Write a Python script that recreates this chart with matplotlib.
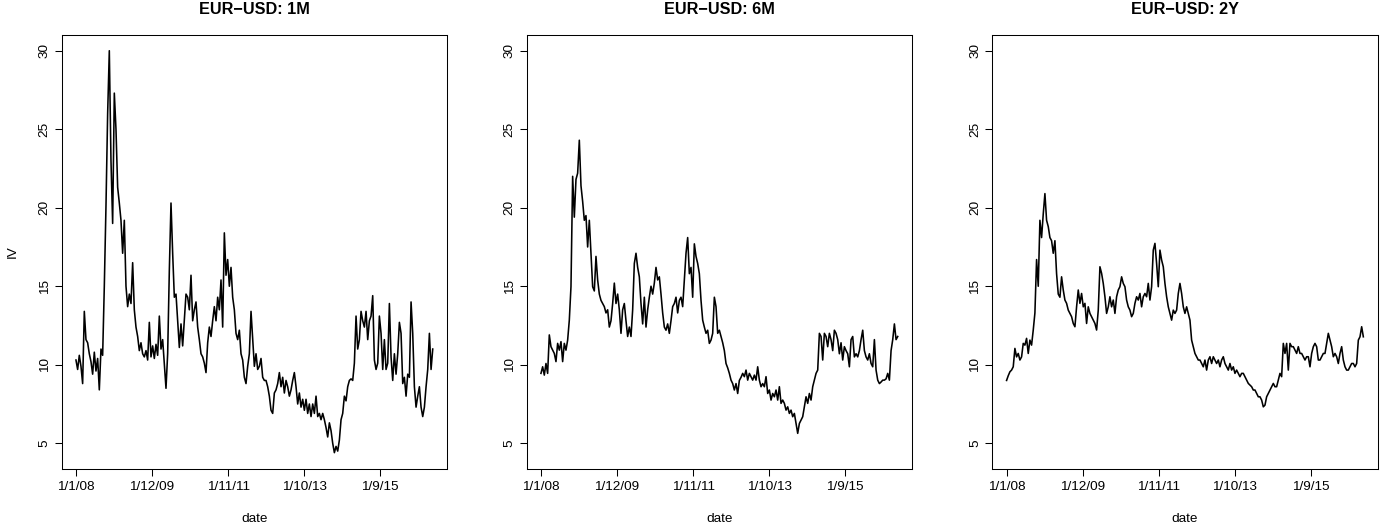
import numpy as np
import matplotlib
matplotlib.use("Agg")
import matplotlib.pyplot as plt

plt.rcParams["font.family"] = ["Liberation Sans", "DejaVu Sans"]

# implied vol (%) of EUR-USD options, sampled roughly every 11 trading days
iv_1m = [
    10.3, 9.7, 10.6, 9.9, 8.8, 13.4, 11.6, 11.4, 10.7, 10.2, 9.4, 10.8, 9.6, 10.4, 8.4,
    11.0, 10.6, 15.0, 20.1, 26.0, 30.0, 23.0, 19.0, 27.3, 25.0, 21.3, 20.3, 19.2, 17.1, 19.2,
    15.0, 13.7, 14.5, 13.9, 16.5, 13.5, 12.4, 11.8, 10.9, 11.4, 10.7, 10.5, 10.9, 10.3, 12.7,
    10.5, 11.2, 10.4, 11.3, 10.6, 13.1, 11.0, 11.6, 10.1, 8.5, 10.7, 16.0, 20.3, 17.1, 14.3,
    14.5, 12.8, 11.1, 12.6, 11.2, 12.8, 14.5, 14.3, 13.5, 15.7, 12.8, 13.5, 14.0, 12.4, 11.6,
    10.7, 10.5, 10.1, 9.5, 11.4, 12.4, 11.8, 12.8, 13.7, 12.8, 14.3, 13.5, 15.4, 12.4, 18.4,
    15.7, 16.7, 15.0, 16.2, 14.3, 13.5, 12.0, 11.6, 12.2, 10.7, 10.3, 9.2, 8.8, 9.9, 10.7,
    13.4, 11.6, 9.9, 10.7, 9.7, 9.9, 10.4, 9.2, 9.0, 9.0, 8.6, 8.0, 7.1, 6.9, 8.2,
    8.4, 8.8, 9.5, 8.6, 9.2, 8.2, 9.0, 8.6, 8.0, 8.4, 9.0, 9.5, 8.6, 7.5, 8.2,
    7.3, 7.8, 7.1, 7.8, 6.9, 7.5, 6.7, 7.5, 6.9, 8.0, 6.7, 6.9, 6.5, 6.9, 6.5,
    6.0, 5.4, 6.3, 5.8, 5.0, 4.4, 4.8, 4.5, 5.2, 6.5, 6.9, 8.0, 7.7, 8.6, 9.0,
    9.1, 9.0, 10.1, 13.1, 11.0, 11.6, 13.4, 12.8, 12.4, 13.4, 11.6, 12.8, 13.1, 14.4, 10.3,
    9.7, 10.1, 13.1, 12.0, 9.7, 11.6, 9.7, 10.1, 13.9, 10.5, 9.0, 10.7, 9.4, 10.7, 12.7,
    12.0, 8.8, 9.2, 8.0, 9.4, 9.2, 14.0, 12.0, 8.6, 7.3, 8.0, 8.6, 7.3, 6.7, 7.3,
    8.6, 9.7, 12.0, 9.7, 11.0,
]

iv_6m = [
    9.45, 9.87, 9.34, 10.08, 9.45, 11.9, 11.15, 10.93, 10.72, 10.2, 11.36, 10.93, 11.47, 10.2, 11.36,
    10.93, 11.57, 12.84, 14.97, 22.0, 19.4, 21.8, 22.2, 24.3, 21.4, 20.4, 19.2, 19.5, 17.5, 19.2,
    17.1, 14.97, 14.7, 16.9, 15.4, 14.5, 14.1, 13.9, 13.7, 13.3, 13.5, 12.4, 12.8, 13.9, 15.2,
    13.9, 14.5, 13.5, 12.0, 13.5, 13.9, 12.8, 11.8, 12.4, 11.8, 13.5, 16.45, 17.1, 16.2, 15.6,
    13.9, 12.6, 14.3, 12.4, 13.5, 14.3, 15.0, 14.5, 15.2, 16.2, 15.4, 15.6, 14.5, 13.3, 12.4,
    12.2, 12.6, 12.0, 12.8, 13.7, 13.9, 14.3, 13.3, 14.1, 14.3, 13.7, 15.4, 17.1, 18.1, 15.8,
    16.2, 14.3, 17.7, 16.9, 16.45, 15.8, 14.1, 12.84, 12.4, 12.0, 12.2, 11.36, 11.57, 12.0, 14.3,
    13.7, 12.0, 12.2, 11.8, 11.4, 10.9, 10.08, 9.8, 9.45, 9.02, 8.8, 8.39, 8.8, 8.17, 9.0,
    9.2, 9.45, 9.24, 9.66, 9.02, 9.45, 9.24, 9.02, 9.34, 9.02, 9.87, 9.02, 8.6, 8.8, 8.6,
    9.24, 8.17, 8.39, 7.75, 8.17, 7.96, 8.39, 7.75, 8.6, 7.54, 7.75, 7.54, 7.11, 7.32, 6.9,
    7.11, 6.69, 6.9, 6.26, 5.63, 6.26, 6.48, 6.69, 7.32, 7.96, 7.54, 8.17, 7.75, 8.6, 9.02,
    9.45, 9.66, 12.0, 11.8, 10.3, 12.0, 11.8, 11.15, 12.0, 11.6, 10.9, 12.2, 12.0, 11.6, 10.7,
    11.4, 10.3, 11.15, 10.9, 10.7, 9.87, 11.6, 11.8, 10.5, 10.7, 10.5, 10.9, 11.6, 12.2, 10.9,
    10.5, 10.3, 10.7, 10.08, 9.87, 11.6, 9.66, 9.02, 8.8, 8.9, 9.02, 9.02, 9.1, 9.45, 9.02,
    10.9, 11.6, 12.6, 11.6, 11.8,
]

iv_2y = [
    9.0, 9.3, 9.55, 9.66, 9.87, 11.04, 10.5, 10.72, 10.3, 10.5, 11.36, 11.25, 11.68, 10.72, 11.57,
    11.25, 12.21, 13.3, 16.7, 15.0, 19.2, 18.1, 19.6, 20.9, 19.2, 18.8, 18.1, 17.9, 17.1, 17.9,
    15.8, 14.5, 14.3, 15.6, 14.76, 14.12, 13.91, 13.48, 13.27, 13.06, 12.63, 12.42, 13.69, 14.76, 13.91,
    14.54, 13.69, 13.91, 12.63, 13.69, 13.27, 13.06, 12.84, 12.63, 12.21, 13.48, 16.24, 15.82, 15.18, 14.33,
    13.27, 13.69, 14.33, 13.69, 14.12, 13.27, 14.33, 14.76, 14.97, 15.6, 15.18, 14.97, 14.12, 13.69, 13.48,
    13.06, 13.27, 13.91, 14.33, 14.12, 14.54, 13.69, 14.33, 14.54, 14.33, 15.18, 14.12, 14.97, 17.3, 17.73,
    16.45, 14.97, 17.3, 16.67, 16.24, 15.18, 14.33, 13.69, 13.27, 12.84, 13.48, 13.27, 13.48, 14.54, 15.18,
    14.54, 13.69, 13.27, 13.69, 13.27, 12.84, 11.57, 11.15, 10.72, 10.51, 10.3, 10.3, 10.08, 9.87, 10.3,
    9.66, 10.3, 10.51, 10.08, 10.51, 10.3, 10.08, 10.3, 9.87, 10.3, 10.51, 10.08, 9.87, 9.66, 10.08,
    9.66, 9.87, 9.45, 9.66, 9.45, 9.24, 9.45, 9.45, 9.24, 9.02, 8.81, 8.7, 8.6, 8.39, 8.39,
    8.17, 7.96, 7.96, 7.75, 7.32, 7.43, 7.96, 8.17, 8.39, 8.6, 8.81, 8.6, 8.6, 9.02, 9.45,
    9.24, 11.36, 10.72, 11.36, 9.66, 11.36, 11.15, 11.15, 10.93, 10.72, 11.15, 10.72, 10.72, 10.51, 10.3,
    10.51, 10.51, 9.87, 10.72, 11.15, 11.36, 11.15, 10.3, 10.3, 10.51, 10.72, 10.72, 11.36, 12.0, 11.57,
    11.15, 10.51, 10.72, 10.51, 10.08, 10.72, 11.15, 10.3, 9.87, 9.66, 9.66, 9.87, 10.08, 10.08, 9.87,
    10.08, 11.57, 11.78, 12.42, 11.78,
]

tenors = ["1M", "6M", "2Y"]
series = [iv_1m, iv_6m, iv_2y]

# observations are trading days; axis labelled every 500 of them
n_obs = 2347
tick_obs = [1, 501, 1001, 1501, 2001]
tick_labels = ["1/1/08", "1/12/09", "1/11/11", "1/10/13", "1/9/15"]

fig = plt.figure(figsize=(13.92, 5.24), dpi=100)
W, H = 1392, 524
lefts = [61.7, 526.7, 992.3]
ax_w, top, bottom = 385.3, 34.7, 469.0

pad_x = 0.04 * (n_obs - 1)
for i, (tenor, vals) in enumerate(zip(tenors, series)):
    ax = fig.add_axes([lefts[i] / W, 1 - bottom / H, ax_w / W, (bottom - top) / H])
    x = np.linspace(1, n_obs, len(vals))
    ax.plot(x, vals, color="black", lw=1.15)
    ax.set_xlim(1 - pad_x, n_obs + pad_x)
    ax.set_ylim(3.36, 31.02)
    ax.set_xticks(tick_obs)
    ax.set_xticklabels(tick_labels)
    ax.set_yticks([5, 10, 15, 20, 25, 30])
    for lab in ax.get_yticklabels():
        lab.set_rotation(90)
        lab.set_va("center")
    ax.tick_params(axis="both", length=5, width=0.75, labelsize=9.7, pad=3)
    ax.tick_params(axis="x", pad=4)
    for sp in ax.spines.values():
        sp.set_linewidth(0.75)
    ax.set_title("EUR\u2212USD: " + tenor, fontsize=11.7, fontweight="bold", pad=15)
    ax.set_xlabel("date", fontsize=9.7, labelpad=14)
    if i == 0:
        ax.set_ylabel("IV", fontsize=9.7, labelpad=14)

fig.savefig("out.png", dpi=100)
